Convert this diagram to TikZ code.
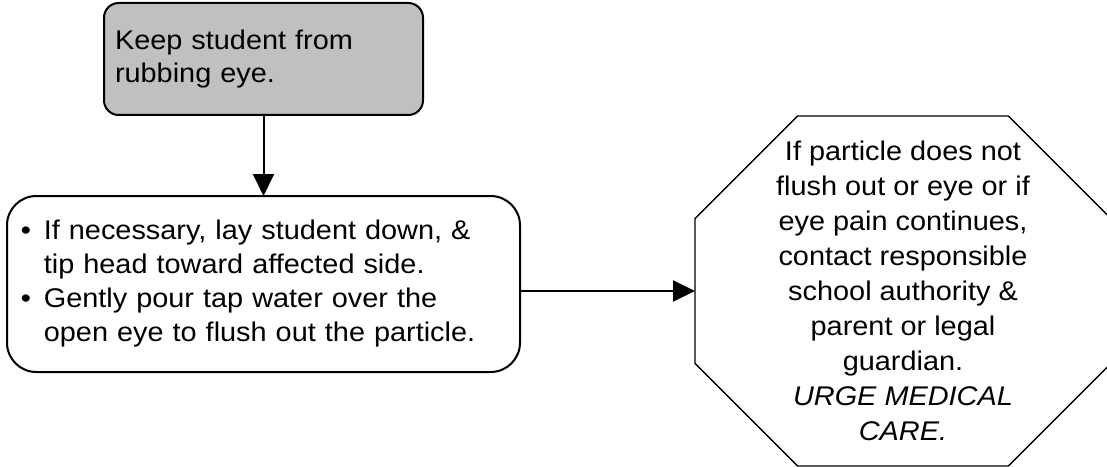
\documentclass[tikz,border=0pt]{standalone}
\usepackage{fontspec}
\setmainfont{Liberation Sans}[FakeStretch=1.07]
\usetikzlibrary{arrows.meta}
\definecolor{boxgray}{RGB}{192,192,192}
\begin{document}
\begin{tikzpicture}[x=0.75pt,y=-0.75pt,
  box/.style={draw=black, line width=1.5pt, inner sep=0pt, outer sep=0pt},
  conn/.style={line width=1.5pt, -{Triangle[length=16.5pt,width=15.75pt]}},
  octline/.style={draw=black, line width=1.1pt, line join=miter},
  txtA/.style={font=\fontsize{20.25pt}{24.75pt}\selectfont},
  txtB/.style={font=\fontsize{20.25pt}{25.5pt}\selectfont},
  txtC/.style={font=\fontsize{20.25pt}{26.25pt}\selectfont}]
\useasboundingbox (0,0) rectangle (1107,467);
\clip (0,0) rectangle (1107,467);
% top box
\node[box, txtA, fill=boxgray, rounded corners=11pt, minimum width=239.25pt, minimum height=84pt,
      text width=222.75pt, align=left] (keep) at (263.5,59)
      {Keep student from\\rubbing eye.};
% middle box
\node[box, txtB, fill=white, rounded corners=22pt, minimum width=384.75pt, minimum height=132pt,
      text width=364pt, align=left] (steps) at (263.5,284)
      {\makebox[17.25pt][l]{\textbullet}If necessary, lay student down, \&\\
       \makebox[17.25pt][l]{}tip head toward affected side.\\
       \makebox[17.25pt][l]{\textbullet}Gently pour tap water over the\\
       \makebox[17.25pt][l]{}open eye to flush out the particle.};
% octagon
\node[txtC, inner sep=0pt, outer sep=0pt, minimum width=312pt, minimum height=262.5pt, align=center]
      (oct) at (903,291)
      {If particle does not\\flush out or eye or if\\eye pain continues,\\contact responsible\\school authority \&\\parent or legal\\guardian.\\\textit{URGE MEDICAL}\\\textit{CARE.}};
\draw[octline] ([xshift=77pt]oct.north west) -- ([xshift=-77pt]oct.north east)
  -- ([yshift=-77pt]oct.north east) -- ([yshift=77pt]oct.south east)
  -- ([xshift=-77pt]oct.south east) -- ([xshift=77pt]oct.south west)
  -- ([yshift=77pt]oct.south west) -- ([yshift=-77pt]oct.north west) -- cycle;
% connectors
\draw[conn] (keep.south) -- (steps.north);
\draw[conn] (steps.east |- oct.west) -- (oct.west);
\end{tikzpicture}
\end{document}
